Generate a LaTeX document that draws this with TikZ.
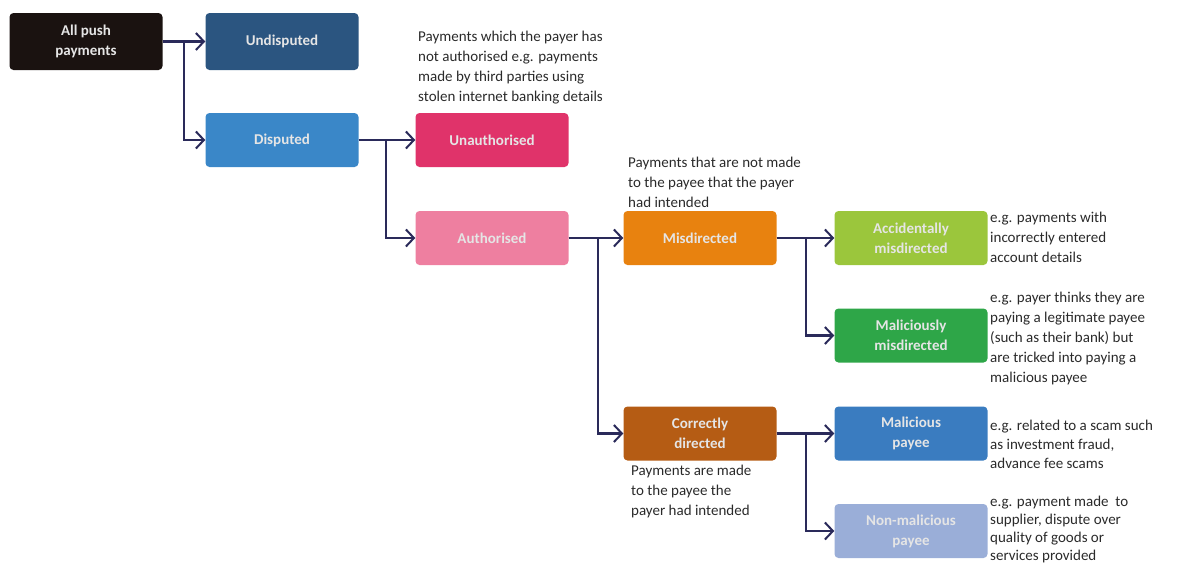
\documentclass[tikz,border=0pt]{standalone}
\usepackage{fontspec}
\setmainfont{Carlito}
\usetikzlibrary{arrows.meta}
\definecolor{cAll}{HTML}{1A1210}
\definecolor{cUnd}{HTML}{2B5580}
\definecolor{cDis}{HTML}{3A87C8}
\definecolor{cUna}{HTML}{E0336A}
\definecolor{cAut}{HTML}{EE7FA0}
\definecolor{cMis}{HTML}{E8820F}
\definecolor{cAcc}{HTML}{9BC63C}
\definecolor{cMal}{HTML}{2EA648}
\definecolor{cCor}{HTML}{B55C14}
\definecolor{cMpy}{HTML}{3A7CC0}
\definecolor{cNon}{HTML}{9AAED8}
\definecolor{cLine}{HTML}{2A2A5A}
\definecolor{cTxt}{HTML}{2A2A2A}
\tikzset{
  box/.style={rounded corners=4pt, minimum width=153pt, minimum height=54pt, inner sep=0pt,
    text=white!90!black, align=center, font=\bfseries\fontsize{15}{20}\selectfont},
  note/.style={anchor=north west, align=left, inner sep=0pt, text=cTxt,
    font=\fontsize{15}{20}\selectfont},
  conn/.style={draw=cLine, line width=2.2pt, -{Straight Barb[length=8pt,width=17pt,line width=2pt]}},
}
\begin{document}
\begin{tikzpicture}[x=1pt,y=-1pt]
\useasboundingbox (0,0) rectangle (1181,565);
% boxes
\node[box, fill=cAll, minimum height=57pt] (all) at (86,41.5) {All push\\payments};
\node[box, fill=cUnd, minimum height=57pt] (und) at (282,41.5) {Undisputed};
\node[box, fill=cDis] (dis) at (282,140) {Disputed};
\node[box, fill=cUna] (una) at (492,140) {Unauthorised};
\node[box, fill=cAut] (aut) at (492,238) {Authorised};
\node[box, fill=cMis] (mis) at (700,238) {Misdirected};
\node[box, fill=cAcc] (acc) at (911,238) {Accidentally\\misdirected};
\node[box, fill=cMal] (mal) at (911,335.5) {Maliciously\\misdirected};
\node[box, fill=cCor] (cor) at (700,433.5) {Correctly\\directed};
\node[box, fill=cMpy] (mpy) at (911,433.5) {Malicious\\payee};
\node[box, fill=cNon] (non) at (911,531) {Non-malicious\\payee};
% connectors
\draw[conn] (all.east) -- (und.west);
\draw[conn] (all.east) -- ++(21,0) |- (dis.west);
\draw[conn] (dis.east) -- (una.west);
\draw[conn] (dis.east) -- ++(27,0) |- (aut.west);
\draw[conn] (aut.east) -- (mis.west);
\draw[conn] (aut.east) -- ++(29,0) |- (cor.west);
\draw[conn] (mis.east) -- (acc.west);
\draw[conn] (mis.east) -- ++(29,0) |- (mal.west);
\draw[conn] (cor.east) -- (mpy.west);
\draw[conn] (cor.east) -- ++(29,0) |- (non.west);
% notes
\node[note] (n1) at (418,31) {Payments which the payer has\\not authorised e.g. payments\\made by third parties using\\stolen internet banking details};
\node[note] (n2) at (628,157) {Payments that are not made\\to the payee that the payer\\had intended};
\node[note] (n3) at (990,212) {e.g. payments with\\incorrectly entered\\account details};
\node[note] (n4) at (990,292) {e.g. payer thinks they are\\paying a legitimate payee\\(such as their bank) but\\are tricked into paying a\\malicious payee};
\node[note, font=\fontsize{15}{18.7}\selectfont] (n5) at (990,420) {e.g. related to a scam such\\as investment fraud,\\advance fee scams};
\node[note] (n6) at (631,465) {Payments are made\\to the payee the\\payer had intended};
\node[note, font=\fontsize{15}{18}\selectfont] (n7) at (990,496) {e.g. payment made~ to\\supplier, dispute over\\quality of goods or\\services provided};
\end{tikzpicture}
\end{document}
